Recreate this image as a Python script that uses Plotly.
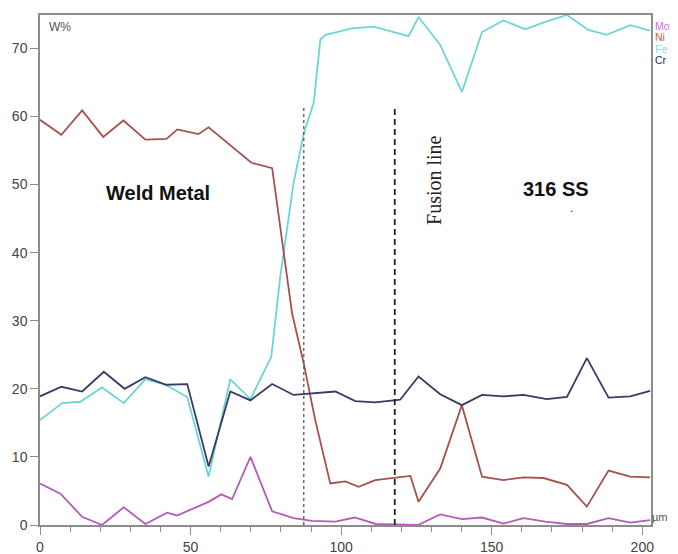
import plotly.graph_objects as go

# ---- data ----
ni_x = [0, 7.1, 14, 21, 27.7, 35, 42, 45.6, 52.6, 56, 70.2, 77.1, 83.7, 87.6, 91.4, 96.4,
        101.4, 105.8, 111.3, 118, 123, 125.7, 132.9, 140.1, 146.8, 153.9, 160.6, 167.2,
        175, 181.6, 188.8, 196, 202.6]
ni_y = [59.5, 57.3, 60.9, 57.0, 59.4, 56.6, 56.7, 58.1, 57.4, 58.4, 53.2, 52.4, 31.1, 23.7,
        15.4, 6.1, 6.4, 5.6, 6.6, 7.0, 7.2, 3.4, 8.3, 17.6, 7.1, 6.6, 7.0, 6.9, 5.9, 2.7,
        8.0, 7.1, 7.0]

fe_x = [0, 7.4, 13.4, 20.6, 27.8, 35, 41.7, 48.9, 56, 63.2, 69.9, 76.8, 79.8, 84.2, 87.6,
        90.9, 93.1, 94.8, 98.6, 103, 110.8, 118.5, 122.4, 125.7, 132.9, 140.1, 146.8,
        153.9, 161.1, 167.8, 175, 182.1, 188.2, 196, 202.6]
fe_y = [15.4, 17.9, 18.1, 20.2, 17.9, 21.4, 20.6, 18.8, 7.1, 21.4, 18.5, 24.7, 36.5, 50.2,
        57.5, 62.0, 71.3, 72.0, 72.4, 72.9, 73.2, 72.2, 71.8, 74.6, 70.5, 63.6, 72.4, 74.1,
        72.8, 73.9, 74.9, 72.7, 72.0, 73.4, 72.6]

cr_x = [0, 7.1, 14, 21.2, 28.1, 35, 41.9, 48.9, 56, 63.2, 69.9, 77.1, 84.2, 98.1, 104.7,
        111.3, 119.6, 125.7, 132.9, 140.1, 146.8, 153.9, 160.6, 168.3, 175, 181.6, 188.8,
        196, 202.6]
cr_y = [18.9, 20.3, 19.6, 22.5, 20.0, 21.7, 20.6, 20.7, 8.6, 19.6, 18.3, 20.7, 19.1, 19.6,
        18.2, 18.0, 18.4, 21.8, 19.2, 17.6, 19.1, 18.9, 19.1, 18.5, 18.8, 24.5, 18.7, 18.9,
        19.7]

mo_x = [0, 6.8, 14, 20.6, 27.8, 35, 42.2, 45.5, 56, 60.2, 63.8, 69.9, 77.1, 84.2, 90.3,
        98.1, 104.5, 111.5, 118, 125.5, 132.9, 140.1, 146.8, 153.9, 160.6, 167.8, 175,
        181.6, 188.8, 196, 202.6]
mo_y = [6.1, 4.6, 1.2, 0.0, 2.6, 0.15, 1.8, 1.4, 3.4, 4.5, 3.8, 10.0, 2.0, 1.0, 0.6, 0.5,
        1.1, 0.15, 0.1, 0.0, 1.55, 0.85, 1.1, 0.2, 1.0, 0.5, 0.15, 0.15, 1.0, 0.35, 0.7]

x_ticks = [0, 50, 100, 150, 200]
y_ticks = [0, 10, 20, 30, 40, 50, 60, 70]

# boundaries: (x position, top value)
dotted_line = (87.6, 61.7)
dashed_line = (117.8, 61.4)

series = [
    ("Mo", mo_x, mo_y, "#b35cb9", "#d26ad6"),
    ("Ni", ni_x, ni_y, "#a3524e", "#d0603c"),
    ("Fe", fe_x, fe_y, "#6dd5d3", "#7fdfe8"),
    ("Cr", cr_x, cr_y, "#3a3a64", "#2a2a52"),
]

fig = go.Figure()
for name in ["Fe", "Ni", "Mo", "Cr"]:
    for s in series:
        if s[0] == name:
            fig.add_trace(go.Scatter(x=s[1], y=s[2], mode="lines", name=s[0],
                                     line=dict(color=s[3], width=1.8),
                                     showlegend=False, hoverinfo="skip"))

AX = "#8c8c8c"
# page body has an 8px margin, so the figure is 8px smaller and margins are shifted
fig.update_layout(
    width=670, height=546,
    margin=dict(l=32, r=27, t=7, b=29, pad=0),
    paper_bgcolor="white", plot_bgcolor="white",
    font=dict(family="Liberation Sans, Arial, sans-serif", color="#444"),
    xaxis=dict(range=[0, 202.9], tickvals=x_ticks, showgrid=False, zeroline=False,
               automargin=False,
               showline=True, linecolor=AX, linewidth=1.5, mirror=True,
               ticks="outside", ticklen=8, tickcolor=AX, tickwidth=1.2,
               tickfont=dict(size=14, color="#444"),
               minor=dict(dtick=10, ticks="outside", ticklen=5, tickcolor=AX, tickwidth=1.2)),
    yaxis=dict(range=[0, 74.9], tickvals=y_ticks, showgrid=False, zeroline=False,
               automargin=False,
               showline=True, linecolor=AX, linewidth=1.5, mirror=True,
               ticks="outside", ticklen=8, tickcolor=AX, tickwidth=1.2,
               tickfont=dict(size=14, color="#444")),
)

fig.add_shape(type="line", xref="x", yref="y", x0=dotted_line[0], x1=dotted_line[0],
              y0=0, y1=dotted_line[1], line=dict(color="#555", width=1.3, dash="dot"))
fig.add_shape(type="line", xref="x", yref="y", x0=dashed_line[0], x1=dashed_line[0],
              y0=0, y1=dashed_line[1], line=dict(color="#222", width=1.8, dash="6px,4px"))

fig.add_annotation(x=39.2, y=48.8, xref="x", yref="y", text="<b>Weld Metal</b>",
                   showarrow=False, font=dict(size=20, color="#111",
                                               family="Liberation Sans, Arial, sans-serif"))
fig.add_annotation(x=171.5, y=49.4, xref="x", yref="y", text="<b>316 SS</b>",
                   showarrow=False, font=dict(size=20, color="#111",
                                               family="Liberation Sans, Arial, sans-serif"))
fig.add_annotation(x=176.4, y=46.6, xref="x", yref="y", text=".",
                   showarrow=False, font=dict(size=12, color="#333"))
fig.add_annotation(x=130.9, y=50.7, xref="x", yref="y", text="Fusion line", textangle=-90,
                   showarrow=False, font=dict(size=20, color="#222",
                                               family="Liberation Serif, Times New Roman, serif"))

fig.add_annotation(x=0.012, y=0.977, xref="paper", yref="paper", text="W%",
                   xanchor="left", yanchor="middle", showarrow=False,
                   font=dict(size=12, color="#555"))
fig.add_annotation(x=0.999, y=0.016, xref="paper", yref="paper", text="µm",
                   xanchor="left", yanchor="middle", showarrow=False,
                   font=dict(size=11, color="#555"))

legend_px = [25.7, 37.4, 48.9, 60.3]
for (name, _, _, _, tcol), py in zip(series, legend_px):
    fig.add_annotation(x=1.0025, y=(525 - py) / 510, xref="paper", yref="paper", text=name,
                       xanchor="left", yanchor="middle", showarrow=False,
                       font=dict(size=10.5, color=tcol))

fig.write_html("out.html")
